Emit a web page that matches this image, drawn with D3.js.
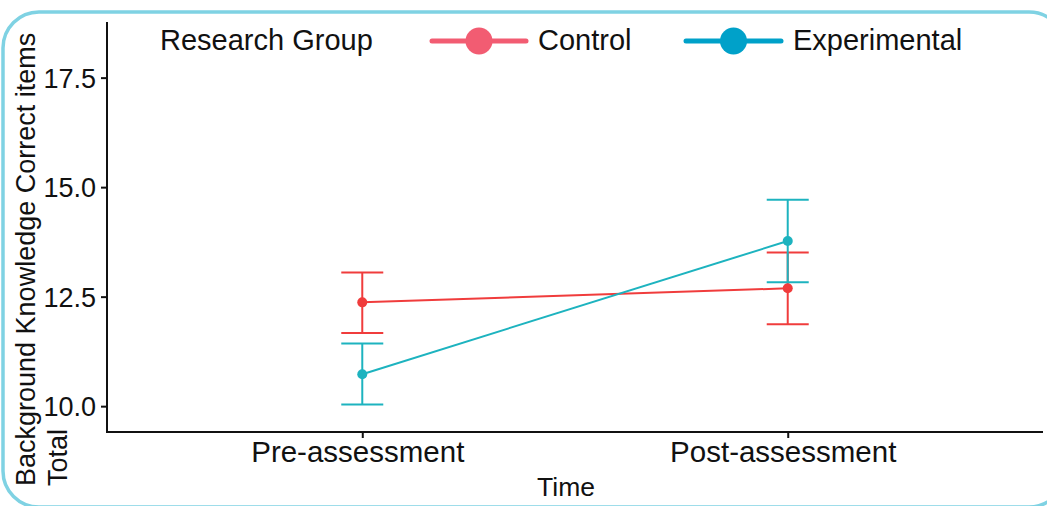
<!DOCTYPE html>
<html>
<head>
<meta charset="utf-8">
<script src="https://cdn.jsdelivr.net/npm/d3@7"></script>
<style>
  html, body { margin: 0; padding: 0; background: #fff; }
  svg { display: block; font-family: "Liberation Sans", Arial, sans-serif; }
</style>
</head>
<body>
<svg id="chart" width="1047" height="506"></svg>
<script>
// ---- data ----
const categories = ["Pre-assessment", "Post-assessment"];
const groups = ["Control", "Experimental"];
const controlMean = [12.37, 12.69];
const controlLow = [11.67, 11.87];
const controlHigh = [13.05, 13.51];
const experimentalMean = [10.73, 13.77];
const experimentalLow = [10.04, 12.83];
const experimentalHigh = [11.43, 14.71];
const yTicks = [10.0, 12.5, 15.0, 17.5];

const series = [
  { name: "Control", mean: controlMean, low: controlLow, high: controlHigh, color: "#F03C3C", legendColor: "#F25C72" },
  { name: "Experimental", mean: experimentalMean, low: experimentalLow, high: experimentalHigh, color: "#1DB3BF", legendColor: "#00A1C9" }
];

(function () {
const svg = d3.select("#chart");

// border
svg.append("rect")
  .attr("x", 3).attr("y", 12).attr("width", 1062).attr("height", 495)
  .attr("rx", 36).attr("ry", 36)
  .attr("fill", "none").attr("stroke", "#7FD2E3").attr("stroke-width", 3.5);

const mLeft = 107, mRight = 1043, mTop = 22, mBottom = 432;

const x = d3.scalePoint().domain(categories).range([mLeft, mRight]).padding(0.6);
const y = d3.scaleLinear().domain([9.41, 18.77]).range([mBottom, mTop]);

// axes
const yAxis = svg.append("g").attr("transform", `translate(${mLeft},0)`)
  .call(d3.axisLeft(y).tickValues(yTicks).tickFormat(d3.format(".1f")).tickSize(6).tickSizeOuter(0).tickPadding(5));
const xAxis = svg.append("g").attr("transform", `translate(0,${mBottom})`)
  .call(d3.axisBottom(x).tickSize(6).tickSizeOuter(0).tickPadding(4));

[yAxis, xAxis].forEach(g => {
  g.select(".domain").attr("stroke", "#111").attr("stroke-width", 2);
  g.selectAll(".tick line").attr("stroke", "#111").attr("stroke-width", 2);
  g.selectAll("text").attr("fill", "#111").style("font-family", "'Liberation Sans', Arial, sans-serif");
});
yAxis.selectAll("text").style("font-size", "27px").attr("dy", "0.36em");
xAxis.selectAll("text").style("font-size", "29.5px").attr("dy", "0.67em").attr("dx", "-5");

// extend domain lines to the corner
yAxis.select(".domain").attr("d", `M0,${mTop}V${mBottom}`);
xAxis.select(".domain").attr("d", `M${mLeft - 1},0H${mRight}`);

// axis titles
svg.append("text")
  .attr("x", 566).attr("y", 496)
  .attr("text-anchor", "middle")
  .style("font-size", "26.5px").attr("fill", "#111")
  .text("Time");

const yl = svg.append("text")
  .attr("transform", "translate(35,486) rotate(-90)")
  .style("font-size", "27px").attr("fill", "#111");
yl.append("tspan").attr("x", 0).attr("y", 0).text("Background Knowledge Correct items");
yl.append("tspan").attr("x", 0).attr("y", 32).text("Total");

// error bars, lines, points
const capHalf = 21;
series.forEach(s => {
  const g = svg.append("g");
  categories.forEach((c, i) => {
    const cx = x(c);
    g.append("line").attr("x1", cx).attr("x2", cx).attr("y1", y(s.low[i])).attr("y2", y(s.high[i]))
      .attr("stroke", s.color).attr("stroke-width", 2);
    g.append("line").attr("x1", cx - capHalf).attr("x2", cx + capHalf).attr("y1", y(s.low[i])).attr("y2", y(s.low[i]))
      .attr("stroke", s.color).attr("stroke-width", 2);
    g.append("line").attr("x1", cx - capHalf).attr("x2", cx + capHalf).attr("y1", y(s.high[i])).attr("y2", y(s.high[i]))
      .attr("stroke", s.color).attr("stroke-width", 2);
  });
  const line = d3.line().x((d, i) => x(categories[i])).y(d => y(d));
  g.append("path").datum(s.mean).attr("d", line)
    .attr("fill", "none").attr("stroke", s.color).attr("stroke-width", 2);
  g.selectAll("circle").data(s.mean).join("circle")
    .attr("cx", (d, i) => x(categories[i])).attr("cy", d => y(d)).attr("r", 5)
    .attr("fill", s.color);
});

// legend
const legend = svg.append("g");
legend.append("text").attr("x", 160).attr("y", 50)
  .style("font-size", "29px").attr("fill", "#111").text("Research Group");
const legendPos = [{ x1: 432, x2: 526, tx: 538 }, { x1: 686, x2: 781, tx: 793 }];
series.forEach((s, i) => {
  const p = legendPos[i];
  const cx = (p.x1 + p.x2) / 2;
  legend.append("line").attr("x1", p.x1).attr("x2", p.x2).attr("y1", 41).attr("y2", 41)
    .attr("stroke", s.legendColor).attr("stroke-width", 5).attr("stroke-linecap", "round");
  legend.append("circle").attr("cx", cx).attr("cy", 41).attr("r", 13.5).attr("fill", s.legendColor);
  legend.append("text").attr("x", p.tx).attr("y", 50)
    .style("font-size", "29px").attr("fill", "#111").text(s.name);
});
})();
</script>
</body>
</html>
